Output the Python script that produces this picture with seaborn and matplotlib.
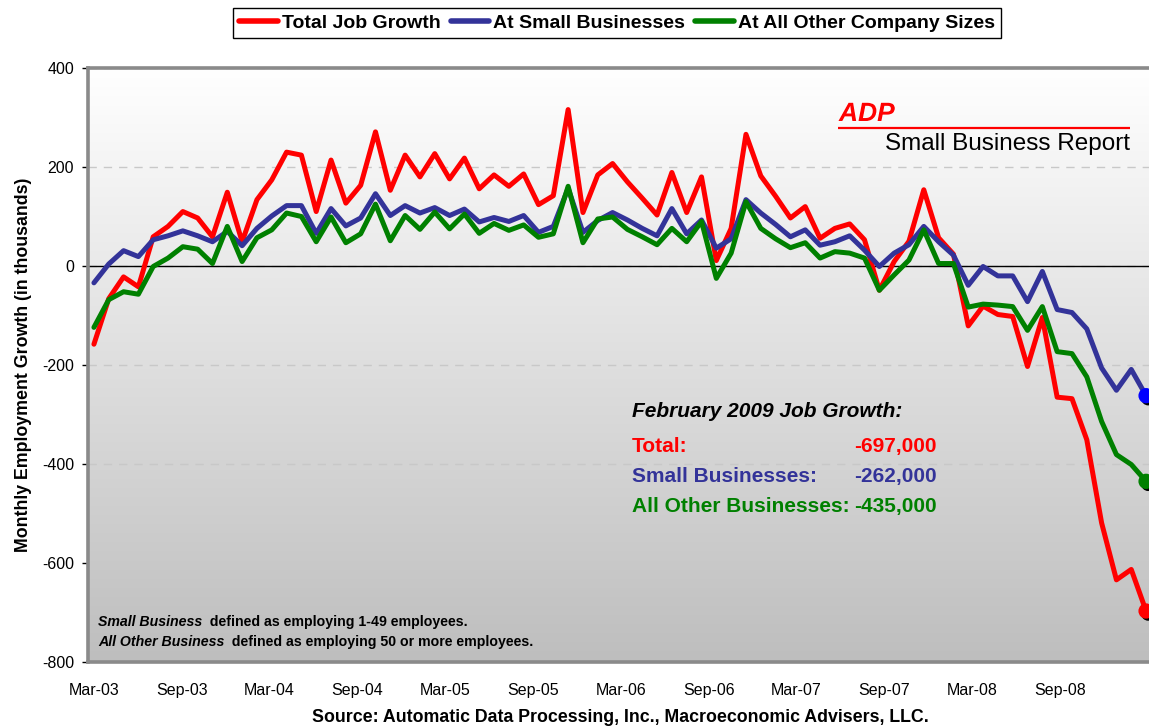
import numpy as np
import pandas as pd
import matplotlib
matplotlib.use("Agg")
import matplotlib.pyplot as plt
import matplotlib.patheffects as pe
import seaborn as sns

# ---------------- data (thousands of jobs, monthly Mar-03 .. Feb-09) ----------------
months = pd.period_range("2003-03", "2009-02", freq="M").strftime("%b-%y").tolist()

total_job_growth = [
    -158, -66, -22, -42, 59, 80, 110, 97, 59, 149, 49, 134,
    174, 230, 224, 110, 214, 127, 163, 271, 153, 224, 180, 227,
    176, 218, 156, 184, 161, 186, 124, 142, 316, 108, 184, 207,
    170, 137, 103, 189, 108, 180, 11, 76, 266, 182, 141, 97,
    120, 56, 76, 85, 53, -49, 9, 50, 154, 57, 24, -121,
    -81, -98, -102, -203, -104, -265, -268, -351, -519, -634, -613, -697,
]
small_business = [
    -34, 4, 31, 19, 53, 61, 71, 61, 49, 70, 41, 76,
    101, 122, 122, 66, 116, 81, 97, 146, 102, 122, 107, 118,
    102, 115, 89, 98, 90, 102, 68, 80, 157, 68, 92, 108,
    93, 76, 61, 116, 65, 93, 36, 55, 134, 107, 84, 59,
    73, 42, 49, 61, 32, -1, 26, 43, 80, 49, 22, -39,
    -1, -20, -20, -72, -11, -88, -94, -127, -206, -251, -209, -262,
]
other_sizes = [
    -124, -68, -52, -57, -1, 16, 39, 34, 5, 80, 9, 57,
    73, 107, 100, 49, 99, 47, 65, 125, 51, 102, 74, 109,
    75, 105, 66, 86, 72, 83, 58, 65, 161, 47, 95, 99,
    74, 59, 43, 76, 49, 90, -25, 26, 130, 76, 55, 37,
    47, 16, 29, 26, 16, -49, -18, 12, 73, 5, 5, -83,
    -77, -79, -82, -130, -82, -173, -177, -224, -314, -381, -401, -435,
]

series_names = ["Total Job Growth", "At Small Businesses", "At All Other Company Sizes"]
line_colors = ["#FF0000", "#333399", "#008000"]
dot_colors = ["#FF0000", "#0000FF", "#008000"]
tick_labels = ["Mar-03", "Sep-03", "Mar-04", "Sep-04", "Mar-05", "Sep-05",
               "Mar-06", "Sep-06", "Mar-07", "Sep-07", "Mar-08", "Sep-08"]
yticks = [400, 200, 0, -200, -400, -600, -800]

# ---------------- long-form frame ----------------
idx = np.arange(len(months))
df = pd.concat([
    pd.DataFrame({"t": idx, "month": months, "value": vals, "series": name})
    for name, vals in zip(series_names, [total_job_growth, small_business, other_sizes])
], ignore_index=True)

# ---------------- style ----------------
sns.set_style("white")
plt.rcParams["font.family"] = ["Liberation Sans", "DejaVu Sans"]
for k in ["text.color", "axes.labelcolor", "xtick.color", "ytick.color"]:
    plt.rcParams[k] = "black"

W, H = 1149, 728
fig = plt.figure(figsize=(W / 100, H / 100), dpi=100)
ax_left, ax_right, ax_top, ax_bot = 88, 1152, 68, 662
ax = fig.add_axes([ax_left / W, 1 - ax_bot / H, (ax_right - ax_left) / W, (ax_bot - ax_top) / H])

# gradient background
grad = np.linspace(1.0, 0.745, 256)[:, None, None] * np.ones((1, 1, 3))
ax.imshow(grad, extent=[0, 1, 0, 1], transform=ax.transAxes, aspect="auto",
          origin="upper", zorder=0, interpolation="bilinear")

ax.grid(axis="y", color="#c8c8c8", linestyle=(0, (6, 5)), linewidth=1.0, zorder=1)
ax.axhline(0, color="black", linewidth=1.0, zorder=2)

sns.lineplot(data=df, x="t", y="value", hue="series", hue_order=series_names,
             palette=dict(zip(series_names, line_colors)), linewidth=3.6,
             ax=ax, zorder=3, legend=True)

# end-point dots with dark shadow
for vals, c in zip([total_job_growth, small_business, other_sizes], dot_colors):
    ax.plot([idx[-1]], [vals[-1]], marker="o", markersize=10, color=c, linestyle="none",
            zorder=5, clip_on=False,
            path_effects=[pe.SimplePatchShadow(offset=(1.5, -2), shadow_rgbFace="black", alpha=1.0),
                          pe.Normal()])

ax.set_xlim(-0.4, idx[-1] + 0.4)
ax.set_ylim(-800, 400)
ax.set_yticks(yticks)
ax.set_yticklabels([str(v) for v in yticks], fontsize=11.5)
ax.set_xticks(np.linspace(0, 65.2, len(tick_labels)))
ax.set_xticklabels(tick_labels, fontsize=11.5)
ax.tick_params(axis="x", length=0, pad=15)
ax.tick_params(axis="y", length=4, width=1, color="black", direction="out", pad=6, left=True)
ax.set_xlabel("")
ax.set_ylabel("Monthly Employment Growth (in thousands)", fontsize=12.8, fontweight="bold", labelpad=7)

for s in ["left", "top", "bottom", "right"]:
    ax.spines[s].set_color("#8a8a8a")
    ax.spines[s].set_linewidth(2.6)
    ax.spines[s].set_zorder(6)

# legend at top
handles, labels = ax.get_legend_handles_labels()
ax.get_legend().remove()
leg = fig.legend(handles, labels, loc="center", bbox_to_anchor=(617 / W, 1 - 23 / H), ncol=3,
                 frameon=True, fancybox=False, edgecolor="black", framealpha=1,
                 prop={"weight": "bold", "size": 14}, handlelength=2.0, handletextpad=0.2,
                 columnspacing=0.5, borderpad=0.3, borderaxespad=0)
leg.get_frame().set_linewidth(1.0)
for h in leg.get_lines():
    h.set_linewidth(4)
    h.set_solid_capstyle("round")

# ADP logo and report title
def fx(px):
    return (px - ax_left) / (ax_right - ax_left)

def fy(py):
    return 1 - (py - ax_top) / (ax_bot - ax_top)

ax.text(fx(839), fy(114), "ADP", transform=ax.transAxes, fontsize=19, fontweight="heavy",
        fontstyle="italic", color="#FF0000", ha="left", va="center", zorder=7,
        path_effects=[pe.withStroke(linewidth=0.8, foreground="white")])
ax.plot([fx(838), fx(1130)], [fy(128), fy(128)], transform=ax.transAxes, color="#FF0000",
        linewidth=1.6, zorder=7, solid_capstyle="butt")
ax.text(fx(1130), fy(144), "Small Business Report", transform=ax.transAxes, fontsize=17.5,
        color="black", ha="right", va="center", zorder=7)

# February 2009 summary
ax.text(fx(632), fy(417), "February 2009 Job Growth:", transform=ax.transAxes, fontsize=15,
        fontweight="bold", fontstyle="italic", ha="left", va="baseline", zorder=7)
summary_labels = ["Total:", "Small Businesses:", "All Other Businesses:"]
summary_vals = [total_job_growth[-1], small_business[-1], other_sizes[-1]]
for lab, v, c, py in zip(summary_labels, summary_vals, line_colors, [452, 482, 512]):
    ax.text(fx(632), fy(py), lab, transform=ax.transAxes, fontsize=15, fontweight="bold",
            color=c, ha="left", va="baseline", zorder=7)
    ax.text(fx(937), fy(py), f"{v * 1000:,}", transform=ax.transAxes, fontsize=15,
            fontweight="bold", color=c, ha="right", va="baseline", zorder=7)

# footnotes
for py, it, rest in [(622, "Small Business", "  defined as employing 1-49 employees."),
                     (642, "All Other Business", "  defined as employing 50 or more employees.")]:
    t1 = ax.text(fx(98), fy(py), it, transform=ax.transAxes, fontsize=10.2, fontweight="bold",
                 fontstyle="italic", ha="left", va="center", zorder=7)
    ax.annotate(rest, xy=(1, 0), xycoords=t1, fontsize=10.2, fontweight="bold",
                ha="left", va="bottom", zorder=7)

fig.text(620 / W, 1 - 718 / H, "Source: Automatic Data Processing, Inc., Macroeconomic Advisers, LLC.",
         ha="center", va="center", fontsize=12.8, fontweight="bold")

fig.savefig("out.png", dpi=100)
